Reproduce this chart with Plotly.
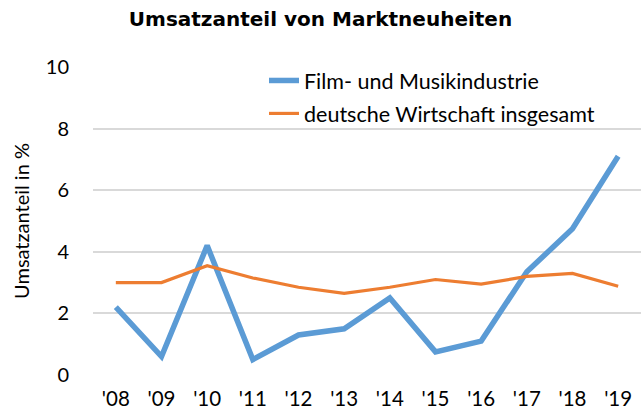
import plotly.graph_objects as go

years = ["'08", "'09", "'10", "'11", "'12", "'13", "'14", "'15", "'16", "'17", "'18", "'19"]
film_musik = [2.2, 0.6, 4.2, 0.5, 1.3, 1.5, 2.5, 0.75, 1.1, 3.35, 4.75, 7.1]
wirtschaft = [3.0, 3.0, 3.55, 3.15, 2.85, 2.65, 2.85, 3.1, 2.95, 3.2, 3.3, 2.88]

fig = go.Figure()
fig.add_trace(go.Scatter(x=years, y=film_musik, mode="lines", name="Film- und Musikindustrie",
                         legendgroup="a", line=dict(color="#5B9BD5", width=5.5)))
fig.add_trace(go.Scatter(x=years, y=wirtschaft, mode="lines", name="deutsche Wirtschaft insgesamt",
                         legendgroup="b", line=dict(color="#ED7D31", width=3.2)))

fig.update_layout(
    width=641, height=414,
    margin=dict(l=93, r=0, t=67, b=39),
    paper_bgcolor="white", plot_bgcolor="white",
    title=dict(text="<b>Umsatzanteil von Marktneuheiten</b>", x=0.5, xanchor="center",
               y=1 - 19/414, yanchor="middle",
               font=dict(family="DejaVu Sans", size=20, color="black")),
    font=dict(family="Lato", size=20, color="black"),
    showlegend=True,
    legend=dict(x=(264 - 93) / 548, y=1 + (67 - 60) / 308, xanchor="left", yanchor="top",
                bgcolor="rgba(255,255,255,0)", font=dict(family="Lato", size=21.5, color="black"),
                traceorder="grouped", tracegroupgap=2, itemwidth=30),
    xaxis=dict(type="category", range=[-0.5, 11.5], showgrid=False, zeroline=False,
               showline=False, ticks="", ticklabelstandoff=9,
               tickfont=dict(family="Lato", size=20.5, color="black")),
    yaxis=dict(range=[0, 10], dtick=2, showgrid=True, gridcolor="#D9D9D9", gridwidth=1.5,
               zeroline=False, showline=False, ticks="", ticklabelstandoff=23,
               tickfont=dict(family="Lato", size=20, color="black"),
               title=dict(text="Umsatzanteil in %", font=dict(family="Lato", size=20, color="black"),
                          standoff=10)),
)

fig.write_html("out.html")
